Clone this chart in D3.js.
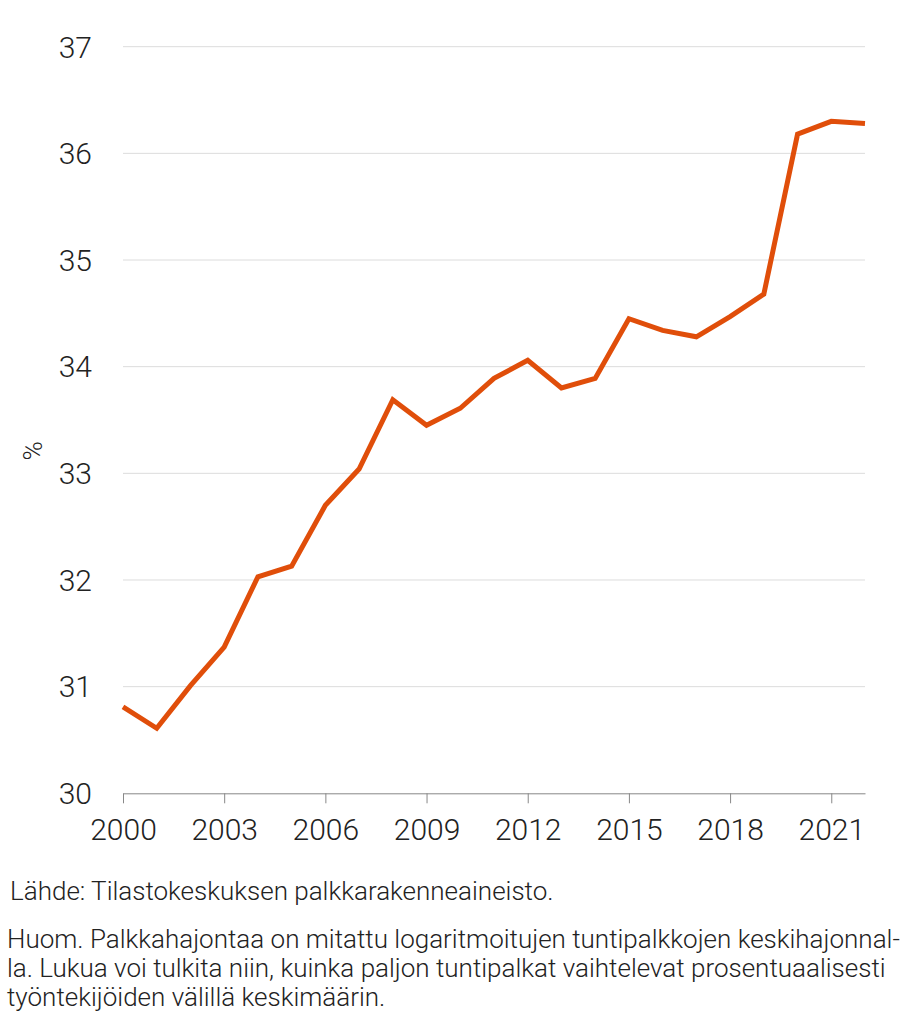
<!DOCTYPE html>
<html><head><meta charset="utf-8">
<script src="https://cdn.jsdelivr.net/npm/d3@7"></script>
<style>body{margin:0;background:#fff;} svg{display:block;font-family:Roboto,"Noto Sans",sans-serif;}</style>
</head><body>
<svg id="c" width="923" height="1024"></svg>
<script>
const years = [2000,2001,2002,2003,2004,2005,2006,2007,2008,2009,2010,2011,2012,2013,2014,2015,2016,2017,2018,2019,2020,2021,2022];
const values = [30.81,30.61,31.01,31.37,32.03,32.13,32.70,33.04,33.69,33.45,33.61,33.89,34.06,33.80,33.89,34.45,34.34,34.28,34.47,34.68,36.18,36.30,36.28];
const yTicks = [30,31,32,33,34,35,36,37];
const xTicks = [2000,2003,2006,2009,2012,2015,2018,2021];
const yLabel = "%";
const footLines = [
  "Lähde: Tilastokeskuksen palkkarakenneaineisto.",
  "Huom. Palkkahajontaa on mitattu logaritmoitujen tuntipalkkojen keskihajonnal-",
  "la. Lukua voi tulkita niin, kuinka paljon tuntipalkat vaihtelevat prosentuaalisesti",
  "työntekijöiden välillä keskimäärin."
];

const svg = d3.select("#c");
const x = d3.scaleLinear().domain([2000,2022]).range([123,865]);
const y = d3.scaleLinear().domain([30,37]).range([793.3,46.7]);

// gridlines
svg.append("g").selectAll("line").data(yTicks.filter(d=>d>30)).join("line")
  .attr("x1",123).attr("x2",865).attr("y1",d=>y(d)).attr("y2",d=>y(d))
  .attr("stroke","#dcdcdc").attr("stroke-width",1);

// y labels
svg.append("g").selectAll("text").data(yTicks).join("text")
  .attr("x",92).attr("y",d=>y(d)).attr("dy","0.36em").attr("text-anchor","end")
  .attr("font-size",30).attr("font-weight",300).attr("fill","#222").text(d=>d);

// x axis
const xAxis = d3.axisBottom(x).tickValues(xTicks).tickFormat(d3.format("d")).tickSize(10).tickSizeOuter(0).tickPadding(15);
const gx = svg.append("g").attr("transform",`translate(0,${y(30)})`).call(xAxis);
gx.select(".domain").attr("stroke","#888");
gx.selectAll(".tick line").attr("stroke","#888");
gx.selectAll(".tick text").attr("font-size",30).attr("font-weight",300).attr("fill","#222")
  .attr("font-family","Roboto,'Noto Sans',sans-serif");

// y axis title
svg.append("text").attr("transform","translate(42,451) rotate(-90)")
  .attr("text-anchor","middle").attr("font-size",26).attr("font-weight",300).attr("fill","#222").text(yLabel);

// line
const line = d3.line().x((d,i)=>x(years[i])).y(d=>y(d));
svg.append("path").datum(values).attr("d",line).attr("fill","none")
  .attr("stroke","#e04e0a").attr("stroke-width",5).attr("stroke-linejoin","miter");

// footnotes
const footY = [900,948,977,1006];
svg.append("g").selectAll("text").data(footLines).join("text")
  .attr("x",(d,i)=>i===0?10:7).attr("y",(d,i)=>footY[i])
  .attr("font-size",26).attr("font-weight",300).attr("fill","#222").text(d=>d);
</script>
</body></html>
